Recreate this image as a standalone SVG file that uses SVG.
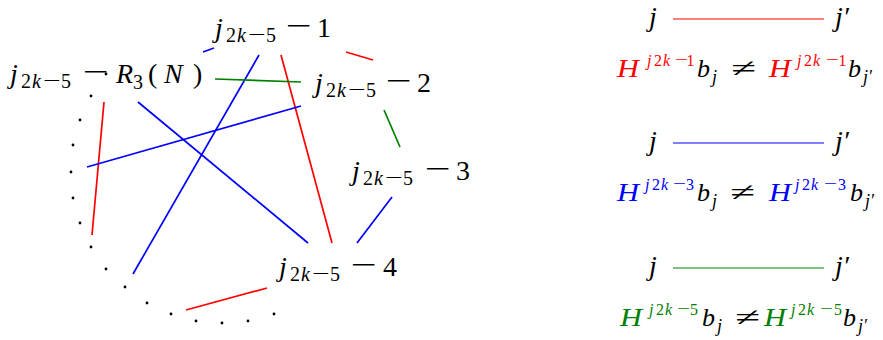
<svg xmlns="http://www.w3.org/2000/svg" width="883" height="340" viewBox="0 0 883 340">
<style>
text{font-family:"Liberation Serif","Times New Roman",serif;fill:#000}
.L{font-size:28px;font-style:italic}
.S{font-size:20px}
.u{font-style:normal}
.i{font-style:italic}
.F{font-size:26px;font-style:italic}
.P{font-size:16px}
.Q{font-size:18px;font-style:italic}
.r{fill:#ff0000}
.b{fill:#0000ff}
.g{fill:#008000}
.e line{stroke-width:1.7;stroke-linecap:butt}
.lr{stroke:#ff0000}
.lb{stroke:#0000ff}
.lg{stroke:#008000}
.dots circle{fill:#000}
</style>
<rect width="883" height="340" fill="#fff"/>

<g id="connectors" class="e">
<line class="lr" x1="281" y1="55" x2="332" y2="243"/>
<line class="lr" x1="104" y1="102" x2="92" y2="235"/>
<line class="lr" x1="346" y1="52" x2="373" y2="60"/>
<line class="lr" x1="186" y1="310" x2="267" y2="288"/>
<line class="lb" x1="203" y1="52" x2="214" y2="48"/>
<line class="lb" x1="259" y1="55" x2="133" y2="274"/>
<line class="lb" x1="138" y1="102" x2="308" y2="243"/>
<line class="lb" x1="87" y1="167" x2="301" y2="106"/>
<line class="lb" x1="392" y1="197" x2="357" y2="243"/>
<line class="lg" x1="215" y1="79" x2="301" y2="82"/>
<line class="lg" x1="384" y1="110" x2="400" y2="147"/>
</g>

<g id="dots" class="dots">
<circle cx="106" cy="74" r="1.4"/>
<circle cx="91" cy="96" r="1.4"/>
<circle cx="80" cy="120" r="1.4"/>
<circle cx="73" cy="145" r="1.4"/>
<circle cx="71" cy="172" r="1.4"/>
<circle cx="73" cy="198" r="1.4"/>
<circle cx="80" cy="223" r="1.4"/>
<circle cx="91" cy="247" r="1.4"/>
<circle cx="106" cy="269" r="1.4"/>
<circle cx="125" cy="287" r="1.4"/>
<circle cx="147" cy="303" r="1.4"/>
<circle cx="171" cy="314" r="1.4"/>
<circle cx="196" cy="321" r="1.4"/>
<circle cx="222" cy="323" r="1.4"/>
<circle cx="248" cy="321" r="1.4"/>
<circle cx="274" cy="314" r="1.4"/>
</g>

<g id="n0">
<text class="L" x="10" y="83">j</text>
<text class="S" y="88"><tspan x="21">2</tspan><tspan class="i" x="32">k</tspan><tspan x="61">5</tspan></text>
<text class="S" x="43" y="86.8" textLength="17.7" lengthAdjust="spacingAndGlyphs">−</text>
<text class="L u" x="83" y="80.7" textLength="26" lengthAdjust="spacingAndGlyphs">−</text>
<text class="L" x="116" y="83">R</text>
<text class="S" x="133" y="89">3</text>
<text class="L u" x="148" y="83">(</text>
<text class="L" x="164" y="83">N</text>
<text class="L u" x="193" y="83">)</text>
</g>

<g id="n1">
<text class="L" x="215" y="37">j</text>
<text class="S" y="42"><tspan x="226">2</tspan><tspan class="i" x="237">k</tspan><tspan x="266">5</tspan></text>
<text class="S" x="248" y="40.8" textLength="17.7" lengthAdjust="spacingAndGlyphs">−</text>
<text class="L u" x="286" y="34.7" textLength="26" lengthAdjust="spacingAndGlyphs">−</text>
<text class="L u" x="317" y="37">1</text>
</g>

<g id="n2">
<text class="L" x="315" y="92">j</text>
<text class="S" y="97"><tspan x="326">2</tspan><tspan class="i" x="337">k</tspan><tspan x="366">5</tspan></text>
<text class="S" x="348" y="95.8" textLength="17.7" lengthAdjust="spacingAndGlyphs">−</text>
<text class="L u" x="386" y="89.7" textLength="26" lengthAdjust="spacingAndGlyphs">−</text>
<text class="L u" x="417" y="92">2</text>
</g>

<g id="n3">
<text class="L" x="352" y="180">j</text>
<text class="S" y="185"><tspan x="363">2</tspan><tspan class="i" x="374">k</tspan><tspan x="403">5</tspan></text>
<text class="S" x="385" y="183.8" textLength="17.7" lengthAdjust="spacingAndGlyphs">−</text>
<text class="L u" x="425" y="177.7" textLength="26" lengthAdjust="spacingAndGlyphs">−</text>
<text class="L u" x="456" y="180">3</text>
</g>

<g id="n4">
<text class="L" x="279" y="276">j</text>
<text class="S" y="281"><tspan x="290">2</tspan><tspan class="i" x="301">k</tspan><tspan x="330">5</tspan></text>
<text class="S" x="312" y="279.8" textLength="17.7" lengthAdjust="spacingAndGlyphs">−</text>
<text class="L u" x="351" y="273.7" textLength="26" lengthAdjust="spacingAndGlyphs">−</text>
<text class="L u" x="383" y="276">4</text>
</g>

<g id="legend-red">
<text class="L" x="649" y="26">j</text>
<line x1="673" y1="19" x2="824" y2="19" stroke="#ff0000" stroke-width="1.2"/>
<text class="L" x="835" y="26">j′</text>
<text class="F r" x="617" y="77" textLength="22" lengthAdjust="spacingAndGlyphs">H</text>
<text class="P r" y="66"><tspan class="i" x="647">j</tspan><tspan x="654">2</tspan><tspan class="i" x="663">k</tspan><tspan x="686.5">1</tspan></text>
<text class="P r" x="675" y="64.5" textLength="13" lengthAdjust="spacingAndGlyphs">−</text>
<text class="F" x="697" y="77">b</text>
<text class="Q" x="712" y="83">j</text>
<text class="F u" x="731" y="77" textLength="25" lengthAdjust="spacingAndGlyphs">≠</text>
<text class="F r" x="769" y="77" textLength="22" lengthAdjust="spacingAndGlyphs">H</text>
<text class="P r" y="66"><tspan class="i" x="797">j</tspan><tspan x="804">2</tspan><tspan class="i" x="813">k</tspan><tspan x="838.5">1</tspan></text>
<text class="P r" x="826" y="64.5" textLength="13" lengthAdjust="spacingAndGlyphs">−</text>
<text class="F" x="848" y="77">b</text>
<text class="Q" x="863" y="83">j′</text>
</g>

<g id="legend-blue">
<text class="L" x="649" y="150">j</text>
<line x1="673" y1="143" x2="824" y2="143" stroke="#0000ff" stroke-width="1.2"/>
<text class="L" x="835" y="150">j′</text>
<text class="F b" x="617" y="201" textLength="22" lengthAdjust="spacingAndGlyphs">H</text>
<text class="P b" y="190"><tspan class="i" x="645">j</tspan><tspan x="652">2</tspan><tspan class="i" x="661">k</tspan><tspan x="686">3</tspan></text>
<text class="P b" x="673" y="188.5" textLength="13" lengthAdjust="spacingAndGlyphs">−</text>
<text class="F" x="697" y="201">b</text>
<text class="Q" x="712" y="207">j</text>
<text class="F u" x="730" y="201" textLength="25" lengthAdjust="spacingAndGlyphs">≠</text>
<text class="F b" x="769" y="201" textLength="22" lengthAdjust="spacingAndGlyphs">H</text>
<text class="P b" y="190"><tspan class="i" x="795">j</tspan><tspan x="802">2</tspan><tspan class="i" x="811">k</tspan><tspan x="838">3</tspan></text>
<text class="P b" x="824" y="188.5" textLength="13" lengthAdjust="spacingAndGlyphs">−</text>
<text class="F" x="850" y="201">b</text>
<text class="Q" x="865" y="207">j′</text>
</g>

<g id="legend-green">
<text class="L" x="649" y="275">j</text>
<line x1="673" y1="268" x2="824" y2="268" stroke="#008000" stroke-width="1.2"/>
<text class="L" x="835" y="275">j′</text>
<text class="F g" x="620" y="326" textLength="22" lengthAdjust="spacingAndGlyphs">H</text>
<text class="P g" y="315"><tspan class="i" x="649">j</tspan><tspan x="656">2</tspan><tspan class="i" x="665">k</tspan><tspan x="690">5</tspan></text>
<text class="P g" x="677" y="313.5" textLength="13" lengthAdjust="spacingAndGlyphs">−</text>
<text class="F" x="702" y="326">b</text>
<text class="Q" x="717" y="332">j</text>
<text class="F u" x="735" y="326" textLength="25" lengthAdjust="spacingAndGlyphs">≠</text>
<text class="F g" x="764" y="326" textLength="22" lengthAdjust="spacingAndGlyphs">H</text>
<text class="P g" y="315"><tspan class="i" x="791">j</tspan><tspan x="798">2</tspan><tspan class="i" x="807">k</tspan><tspan x="834">5</tspan></text>
<text class="P g" x="820" y="313.5" textLength="13" lengthAdjust="spacingAndGlyphs">−</text>
<text class="F" x="843" y="326">b</text>
<text class="Q" x="858" y="332">j′</text>
</g>
</svg>
